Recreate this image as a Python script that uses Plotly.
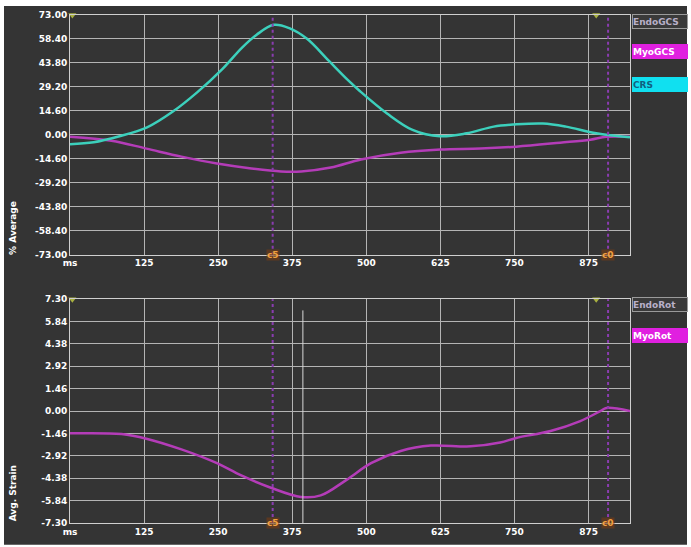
import plotly.graph_objects as go

# ---------------- data ----------------
crs_ms = [0, 40, 82, 130, 173, 215, 257, 290, 315, 344, 370, 400, 437, 470, 489,
          535, 578, 624, 669, 715, 750, 798, 837, 888, 945]
crs_val = [-5.7, -4.5, -1.0, 4.5, 14.0, 26.0, 40.0, 53.0, 61.0, 67.0, 65.0, 58.5,
           45.0, 33.0, 26.7, 13.0, 3.0, -0.9, 0.9, 5.0, 6.3, 6.9, 5.0, 0.9, -1.5]

myogcs_ms = [0, 70, 129, 188, 248, 306, 356, 390, 440, 491, 558, 625, 693, 753,
             827, 878, 905, 945]
myogcs_val = [-1.2, -3.6, -8.4, -13.3, -17.5, -20.5, -22.3, -22.3, -19.9, -15.0,
              -10.9, -9.0, -8.4, -7.2, -4.8, -3.0, -1.2, -1.2]

myorot_ms = [0, 87, 129, 188, 248, 289, 339, 390, 423, 466, 508, 558, 609, 676,
             726, 753, 811, 861, 895, 905, 945]
myorot_val = [-1.45, -1.5, -1.8, -2.5, -3.4, -4.2, -5.0, -5.6, -5.5, -4.5, -3.4,
              -2.6, -2.25, -2.3, -2.05, -1.75, -1.3, -0.65, 0.0, 0.2, 0.0]

x_tickvals = [0, 125, 250, 375, 500, 625, 750, 875]
x_ticktext = ["ms", "125", "250", "375", "500", "625", "750", "875"]
x_range = [0, 945]
gcs_ticks = [73.0, 58.4, 43.8, 29.2, 14.6, 0.0, -14.6, -29.2, -43.8, -58.4, -73.0]
rot_ticks = [7.30, 5.84, 4.38, 2.92, 1.46, 0.0, -1.46, -2.92, -4.38, -5.84, -7.30]

event_ms = [342, 908]          # purple dotted event lines
event_labels = ["c5", "c0"]
cursor_ms = 393                # white cursor in lower panel
flag_ms = [4, 888]             # small triangle flags at the top of each panel

legend_top = ["EndoGCS", "MyoGCS", "CRS"]
legend_bottom = ["EndoRot", "MyoRot"]

# ---------------- styling ----------------
BG = "#343434"
GRID = "#b4b4b4"
CYAN_LINE = "#3cd0bc"
MAG_LINE = "#b43cb8"
PURPLE = "#8a3cb0"

W, H = 691, 547
ML, MR, MT, MB = 70, 61, 10, 24
PW = W - ML - MR
PH = H - MT - MB


def px2paper_x(px):
    return (px - ML) / PW


def px2paper_y(py):
    return (H - MB - py) / PH


fig = go.Figure()

fig.add_trace(go.Scatter(x=myogcs_ms, y=myogcs_val, mode="lines", name="MyoGCS",
                         line=dict(color=MAG_LINE, width=2.5, shape="spline", smoothing=1),
                         xaxis="x", yaxis="y"))
fig.add_trace(go.Scatter(x=crs_ms, y=crs_val, mode="lines", name="CRS",
                         line=dict(color=CYAN_LINE, width=2.5, shape="spline", smoothing=1),
                         xaxis="x", yaxis="y"))
fig.add_trace(go.Scatter(x=myorot_ms, y=myorot_val, mode="lines", name="MyoRot",
                         line=dict(color=MAG_LINE, width=2.5, shape="spline", smoothing=1),
                         xaxis="x2", yaxis="y2"))

# small flags at top of panels
fig.add_trace(go.Scatter(x=flag_ms, y=[gcs_ticks[0]] * len(flag_ms), mode="markers",
                         marker=dict(symbol="triangle-down", size=7, color="#a8b040"),
                         cliponaxis=False, xaxis="x", yaxis="y", hoverinfo="skip"))
fig.add_trace(go.Scatter(x=flag_ms, y=[rot_ticks[0]] * len(flag_ms), mode="markers",
                         marker=dict(symbol="triangle-down", size=7, color="#a8b040"),
                         cliponaxis=False, xaxis="x2", yaxis="y2", hoverinfo="skip"))

top_dom = [px2paper_y(252), 1.0]
bot_dom = [0.0, px2paper_y(297)]

axis_common = dict(showgrid=True, gridcolor=GRID, gridwidth=1, zeroline=False,
                   showline=True, linecolor="#cfcfcf", linewidth=1, mirror=True,
                   ticks="", tickfont=dict(family="DejaVu Sans", size=9, color="white",
                                           weight="bold"))

fig.update_layout(
    width=W, height=H,
    margin=dict(l=ML, r=MR, t=MT, b=MB),
    paper_bgcolor="white",
    plot_bgcolor=BG,
    showlegend=False,
    xaxis=dict(domain=[0, 1], range=x_range, tickvals=x_tickvals, ticktext=x_ticktext,
               anchor="y", **axis_common),
    yaxis=dict(domain=top_dom, range=[-73, 73], tickvals=gcs_ticks,
               ticktext=[f"{v:.2f}" for v in gcs_ticks], anchor="x", **axis_common),
    xaxis2=dict(domain=[0, 1], range=x_range, tickvals=x_tickvals, ticktext=x_ticktext,
                anchor="y2", **axis_common),
    yaxis2=dict(domain=bot_dom, range=[-7.3, 7.3], tickvals=rot_ticks,
                ticktext=[f"{v:.2f}" for v in rot_ticks], anchor="x2", **axis_common),
)

shapes = []
# dark frame background with a thin white border
shapes.append(dict(type="rect", xref="paper", yref="paper",
                   x0=px2paper_x(4), x1=px2paper_x(687),
                   y0=px2paper_y(545), y1=px2paper_y(1),
                   fillcolor=BG, line=dict(width=0), layer="below"))
# event lines
for ms in event_ms:
    for xr, yr in (("x", "y domain"), ("x2", "y2 domain")):
        shapes.append(dict(type="line", xref=xr, yref=yr, x0=ms, x1=ms, y0=0, y1=1,
                           line=dict(color=PURPLE, width=2, dash="dot")))
# cursor line in lower panel
shapes.append(dict(type="line", xref="x2", yref="y2 domain", x0=cursor_ms, x1=cursor_ms,
                   y0=0, y1=0.95, line=dict(color="#d8d8d8", width=1)))
fig.update_layout(shapes=shapes)

ann = []
# event labels sitting on the bottom axis
for ms, lab in zip(event_ms, event_labels):
    for xr, yr in (("x", "y domain"), ("x2", "y2 domain")):
        ann.append(dict(x=ms, y=0, xref=xr, yref=yr, text=lab, showarrow=False,
                        font=dict(family="DejaVu Sans", size=9, color="#f0a040",
                                  weight="bold"),
                        bgcolor="rgba(120,60,20,0.6)", borderpad=0,
                        xanchor="center", yanchor="middle"))

# axis titles
ann.append(dict(x=px2paper_x(13), y=px2paper_y(225), xref="paper", yref="paper",
                text="% Average", textangle=-90, showarrow=False,
                font=dict(family="DejaVu Sans", size=9, color="white", weight="bold"),
                xanchor="center", yanchor="middle"))
ann.append(dict(x=px2paper_x(13), y=px2paper_y(493), xref="paper", yref="paper",
                text="Avg. Strain", textangle=-90, showarrow=False,
                font=dict(family="DejaVu Sans", size=9, color="white", weight="bold"),
                xanchor="center", yanchor="middle"))

# legend boxes
leg_style = {
    "EndoGCS": ("#3a3a3a", "#b8b0c8", "#9a9a9a"),
    "MyoGCS": ("#e020e0", "white", "#e020e0"),
    "CRS": ("#10e0f0", "#106080", "#10e0f0"),
    "EndoRot": ("#3a3a3a", "#b8b0c8", "#9a9a9a"),
    "MyoRot": ("#e020e0", "white", "#e020e0"),
}
for names, centers in ((legend_top, [17, 47, 80]), (legend_bottom, [302, 334])):
    for name, cy in zip(names, centers):
        bg, fc, bc = leg_style[name]
        ann.append(dict(x=px2paper_x(632), y=px2paper_y(cy), xref="paper", yref="paper",
                        text=name, showarrow=False, align="left", width=54, height=13,
                        bgcolor=bg, bordercolor=bc, borderwidth=1, borderpad=0,
                        font=dict(family="DejaVu Sans", size=9, color=fc, weight="bold"),
                        xanchor="left", yanchor="middle"))
fig.update_layout(annotations=ann)

fig.write_html("out.html", config={"displayModeBar": False},
               post_script="document.body.style.margin='0';document.body.style.padding='0';")
